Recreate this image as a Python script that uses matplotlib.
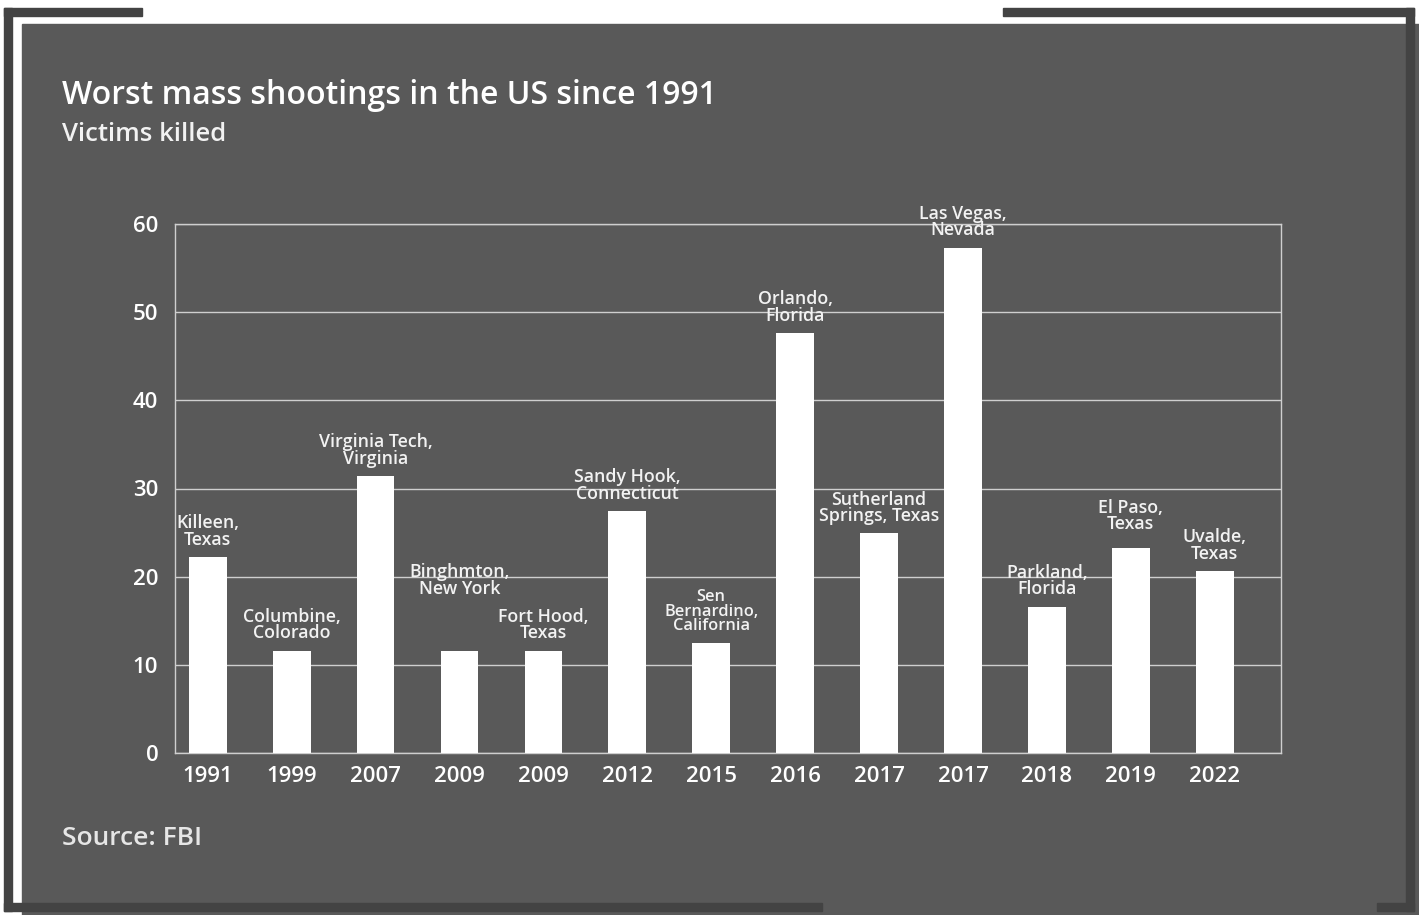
import matplotlib
matplotlib.use("Agg")
import matplotlib.pyplot as plt
from matplotlib.patches import Rectangle
from matplotlib import font_manager as fm

plt.rcParams['font.family'] = ['Open Sans', 'DejaVu Sans']

# data
years = ['1991', '1999', '2007', '2009', '2009', '2012', '2015',
         '2016', '2017', '2017', '2018', '2019', '2022']
places = ['Killeen,\nTexas', 'Columbine,\nColorado', 'Virginia Tech,\nVirginia',
          'Binghmton,\nNew York', 'Fort Hood,\nTexas', 'Sandy Hook,\nConnecticut',
          'Sen\nBernardino,\nCalifornia', 'Orlando,\nFlorida',
          'Sutherland\nSprings, Texas', 'Las Vegas,\nNevada',
          'Parkland,\nFlorida', 'El Paso,\nTexas', 'Uvalde,\nTexas']
killed = [22.2, 11.6, 31.4, 11.6, 11.6, 27.4, 12.5, 47.6, 24.9, 57.3, 16.6, 23.2, 20.6]

# label tweaks (offset in points above bar, font size)
label_offset = {3: 38, 11: 11}
label_size = {6: 11.8}

W, H = 1419, 915
fig = plt.figure(figsize=(W / 100, H / 100), dpi=100)
fig.patch.set_facecolor('white')

panel = '#595959'
dark = '#434343'

# pick the static semibold file (the variable font draws as regular)
semi_path = None
for f in fm.fontManager.ttflist:
    if f.fname.endswith('OpenSans-Semibold.ttf'):
        semi_path = f.fname
if semi_path is None:
    semi_path = fm.findfont(fm.FontProperties(family='Lato', weight=600))


def semi(size):
    return fm.FontProperties(fname=semi_path, size=size)


def rect(x0, y0, x1, y1, color):
    # pixel box -> figure fraction
    fig.patches.append(Rectangle((x0 / W, 1 - y1 / H), (x1 - x0) / W, (y1 - y0) / H,
                                 transform=fig.transFigure, color=color, zorder=-1))


rect(22, 24, W, H, panel)
rect(4, 8, 142, 16, dark)
rect(4, 8, 12, 911, dark)
rect(4, 903, 822, 911, dark)
rect(1003, 8, 1414, 16, dark)
rect(1406, 8, 1414, 911, dark)
rect(1377, 903, 1414, 911, dark)

ax = fig.add_axes([175 / W, 1 - 753 / H, (1281 - 175) / W, (753 - 224) / H])
ax.patch.set_alpha(0)

x = list(range(len(years)))
bars = ax.bar(x, killed, width=0.45, color='white', zorder=3)

ax.set_xlim(-0.39, 12.79)
ax.set_ylim(0, 60)
ax.set_yticks(range(0, 61, 10))
ax.set_xticks(x)
ax.set_xticklabels(years)
ax.yaxis.grid(True, color='#cfcfcf', linewidth=1)
ax.set_axisbelow(True)
for s in ax.spines.values():
    s.set_color('#cfcfcf')
    s.set_linewidth(1)
ax.tick_params(length=0, colors='white')
ax.tick_params(axis='y', pad=12)
ax.tick_params(axis='x', pad=9)
for t in ax.get_xticklabels() + ax.get_yticklabels():
    t.set_fontproperties(semi(16))

for i, (b, lab) in enumerate(zip(bars, places)):
    ax.annotate(lab, (b.get_x() + b.get_width() / 2, b.get_height()),
                xytext=(0, label_offset.get(i, 6)), textcoords='offset points',
                ha='center', va='bottom', color='#f2f2f2',
                fontproperties=semi(label_size.get(i, 12.8)), linespacing=0.9, zorder=4)

fig.text(62 / W, 1 - 104 / H, 'Worst mass shootings in the US since 1991',
         color='white', fontproperties=semi(23))
fig.text(62 / W, 1 - 141 / H, 'Victims killed', color='#f2f2f2', fontproperties=semi(18.5))
fig.text(62 / W, 1 - 845 / H, 'Source: FBI', color='#e6e6e6', fontproperties=semi(19))

fig.savefig('out.png', dpi=100, facecolor=fig.get_facecolor())
